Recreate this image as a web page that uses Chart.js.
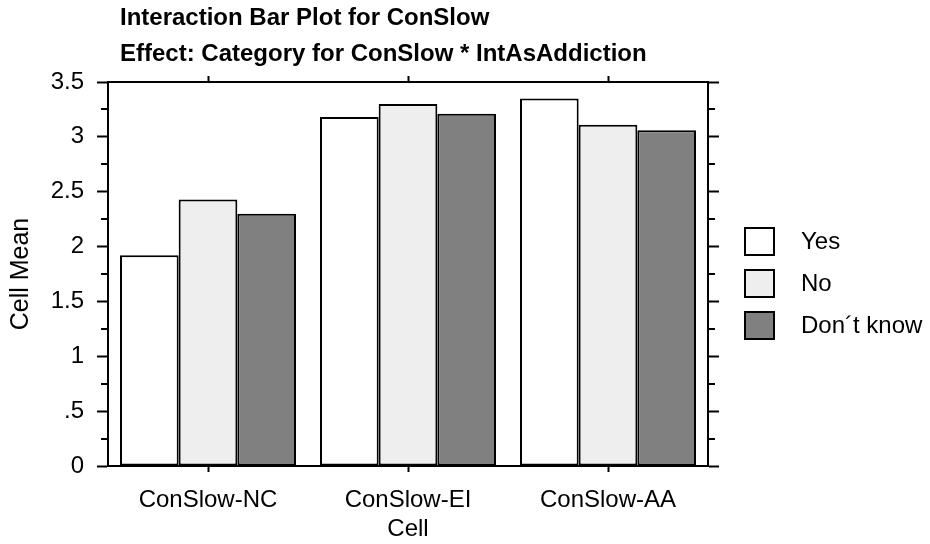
<!DOCTYPE html>
<html><head><meta charset="utf-8">
<script src="https://cdn.jsdelivr.net/npm/chart.js@4/dist/chart.umd.min.js"></script>
<style>html,body{margin:0;padding:0;background:#fff;overflow:hidden;}</style>
</head><body>
<canvas id="c" width="930" height="544" style="display:block;width:930px;height:544px"></canvas>
<script>
const categories = ['ConSlow-NC', 'ConSlow-EI', 'ConSlow-AA'];
const seriesNames = ['Yes', 'No', 'Don\u00b4t know'];
const yesValues = [1.92, 3.18, 3.35];
const noValues = [2.43, 3.30, 3.11];
const dontKnowValues = [2.30, 3.21, 3.06];
const yTickValues = [0, 0.5, 1, 1.5, 2, 2.5, 3, 3.5];
const yTickLabels = ['0', '.5', '1', '1.5', '2', '2.5', '3', '3.5'];
const titleLines = ['Interaction Bar Plot for ConSlow', 'Effect: Category for ConSlow * IntAsAddiction'];
const xAxisTitle = 'Cell';
const yAxisTitle = 'Cell Mean';

const FONT = '"Liberation Sans", Arial, Helvetica, sans-serif';

const minorTicks = {
  id: 'minorTicks',
  afterDraw(chart) {
    const y = chart.scales.y, ctx = chart.ctx;
    const L = chart.chartArea.left, R = chart.chartArea.right;
    ctx.save();
    ctx.strokeStyle = '#000'; ctx.lineWidth = 2;
    for (let i = 0; i < yTickValues.length - 1; i++) {
      const v = (yTickValues[i] + yTickValues[i + 1]) / 2;
      const p = Math.round(y.getPixelForValue(v));
      ctx.beginPath();
      ctx.moveTo(L - 7, p); ctx.lineTo(L, p);
      ctx.moveTo(R, p); ctx.lineTo(R + 7, p);
      ctx.stroke();
    }
    ctx.restore();
  }
};

const titleShift = {
  id: 'titleShift',
  beforeDraw(chart) {
    if (chart.titleBlock) {
      const w = chart.titleBlock.right - chart.titleBlock.left;
      chart.titleBlock.left = chart.chartArea.left + 12;
      chart.titleBlock.right = chart.titleBlock.left + w;
    }
  }
};

const sideLegend = {
  id: 'sideLegend',
  afterDraw(chart) {
    const ctx = chart.ctx;
    const x0 = chart.chartArea.right + 36;
    ctx.save();
    ctx.font = '24px ' + FONT;
    ctx.textBaseline = 'middle';
    chart.data.datasets.forEach((ds, i) => {
      const top = 227 + i * 42;
      ctx.fillStyle = ds.backgroundColor;
      ctx.fillRect(x0, top, 31, 29);
      ctx.lineWidth = 2; ctx.strokeStyle = '#000';
      ctx.strokeRect(x0 + 1, top + 1, 29, 27);
      ctx.fillStyle = '#000';
      ctx.fillText(ds.label, x0 + 57, top + 15);
    });
    ctx.restore();
  }
};

const barStyle = { borderColor: '#000', borderWidth: 2, borderSkipped: false, categoryPercentage: 0.88, barPercentage: 1.0 };

new Chart(document.getElementById('c'), {
  type: 'bar',
  data: {
    labels: categories,
    datasets: [
      Object.assign({ label: seriesNames[0], data: yesValues, backgroundColor: '#ffffff' }, barStyle),
      Object.assign({ label: seriesNames[1], data: noValues, backgroundColor: '#eeeeee' }, barStyle),
      Object.assign({ label: seriesNames[2], data: dontKnowValues, backgroundColor: '#808080' }, barStyle)
    ]
  },
  options: {
    responsive: false,
    animation: false,
    devicePixelRatio: 1,
    layout: { padding: 0 },
    plugins: {
      legend: { display: false },
      tooltip: { enabled: false },
      title: {
        display: true,
        text: titleLines,
        align: 'start',
        color: '#000',
        font: { family: FONT, size: 24, weight: 'bold', lineHeight: 1.5 },
        padding: { top: 0, bottom: 0 }
      }
    },
    scales: {
      x: {
        type: 'category',
        position: 'bottom',
        offset: true,
        afterFit(s) { s.height = 78; },
        border: { display: true, width: 2, color: '#000' },
        grid: { display: true, offset: false, drawOnChartArea: false, drawTicks: true, tickLength: 6, tickWidth: 2, tickColor: '#000' },
        ticks: { color: '#000', font: { family: FONT, size: 24 }, padding: 14, maxRotation: 0 },
        title: { display: true, text: xAxisTitle, color: '#000', font: { family: FONT, size: 24 }, padding: { top: 0, bottom: 0 } }
      },
      x2: {
        type: 'category',
        position: 'top',
        offset: true,
        afterFit(s) { s.height = 10; },
        border: { display: true, width: 2, color: '#000' },
        grid: { display: true, offset: false, drawOnChartArea: false, drawTicks: true, tickLength: 6, tickWidth: 2, tickColor: '#000' },
        ticks: { display: false }
      },
      y: {
        position: 'left',
        min: 0, max: 3.5,
        afterFit(s) { s.width = 108; },
        border: { display: true, width: 2, color: '#000' },
        grid: { display: true, drawOnChartArea: false, drawTicks: true, tickLength: 11, tickWidth: 2, tickColor: '#000' },
        ticks: {
          stepSize: 0.5, color: '#000', padding: 13,
          font: { family: FONT, size: 24 },
          callback(v) { const i = yTickValues.indexOf(Math.round(v * 100) / 100); return i >= 0 ? yTickLabels[i] : ''; }
        },
        title: { display: true, text: yAxisTitle, color: '#000', font: { family: FONT, size: 25 }, padding: { top: 6, bottom: 0 } }
      },
      y2: {
        position: 'right',
        min: 0, max: 3.5,
        afterFit(s) { s.width = 222; },
        border: { display: true, width: 2, color: '#000' },
        grid: { display: true, drawOnChartArea: false, drawTicks: true, tickLength: 11, tickWidth: 2, tickColor: '#000' },
        ticks: { stepSize: 0.5, display: false }
      }
    }
  },
  plugins: [minorTicks, titleShift, sideLegend]
});
</script>
</body></html>
